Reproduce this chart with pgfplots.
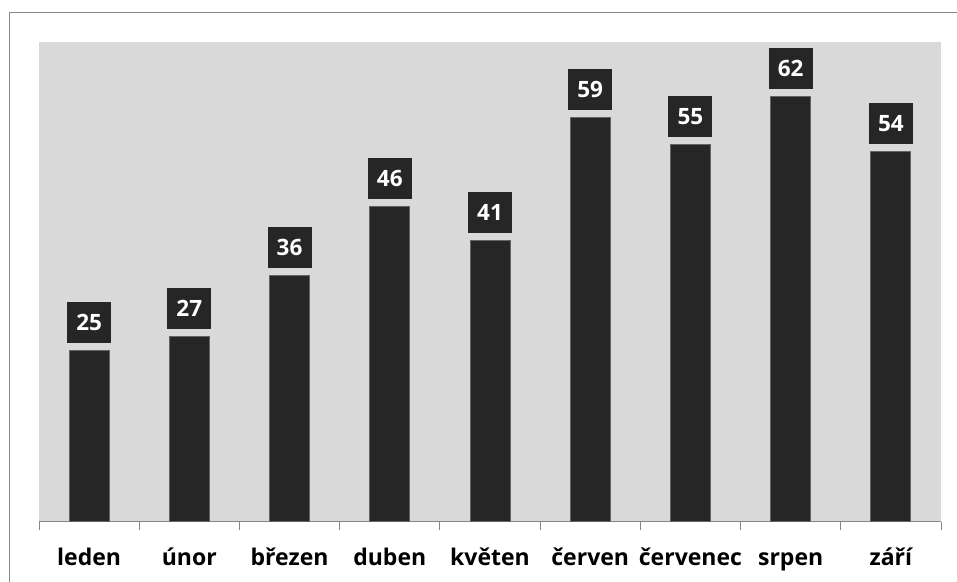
\documentclass[border=0pt]{standalone}
\usepackage{pgfplots}
\pgfplotsset{compat=1.18}
\usepackage{fontspec}
\setmainfont{Open Sans}
\definecolor{plotbg}{RGB}{217,217,217}
\definecolor{bardark}{RGB}{38,38,38}
\definecolor{baredge}{RGB}{100,100,100}
\definecolor{axgray}{RGB}{134,134,134}
\definecolor{frame}{RGB}{136,136,136}
\begin{document}
\begin{tikzpicture}[x=1pt,y=1pt]
\useasboundingbox (0,0) rectangle (957,581);
\fill[white] (0,0) rectangle (957,581);
\draw[frame, line width=1.8pt] (9.5,-20) -- (9.5,568.5) -- (980,568.5);
\begin{axis}[
  at={(39pt,59.3pt)}, anchor=south west,
  scale only axis, width=902pt, height=479.7pt,
  xmin=-0.5, xmax=8.5, ymin=0, ymax=70,
  /pgf/number format/assume math mode=true,
  axis background/.style={fill=plotbg},
  axis x line*=bottom, axis y line=none,
  axis line style={axgray, line width=1pt, -},
  ytick=\empty,
  xtick={0,...,8},
  xticklabels={leden,únor,březen,duben,květen,červen,červenec,srpen,září},
  major tick length=0pt,
  minor xtick={-0.5,0.5,...,8.5},
  minor tick length=8pt,
  tick align=outside,
  minor tick style={axgray, line width=1pt},
  xticklabel style={font=\fontsize{23}{27}\selectfont\bfseries, text=black, anchor=base, yshift=-44pt, inner sep=0pt},
  ybar, bar width=40pt,
  nodes near coords,
  every node near coord/.append style={
    font=\fontsize{22.5}{26}\selectfont\bfseries, text=white, fill=bardark,
    minimum width=44pt, minimum height=41pt, inner sep=0pt,
    anchor=south, yshift=7pt},
  clip=false,
]
\addplot[fill=bardark, draw=baredge, line width=0.8pt] coordinates {
  (0,25) (1,27) (2,36) (3,46) (4,41) (5,59) (6,55) (7,62) (8,54)};
\end{axis}
\end{tikzpicture}
\end{document}
